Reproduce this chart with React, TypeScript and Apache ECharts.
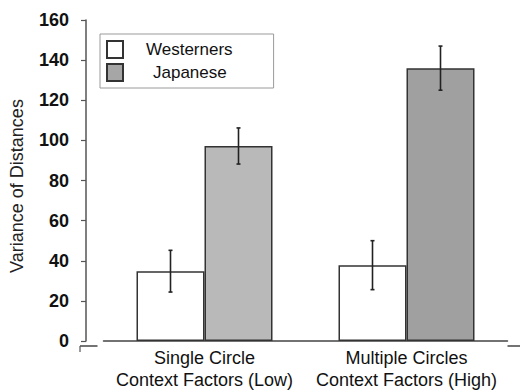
import React, { useEffect, useRef } from "react";
import * as echarts from "echarts";

const categories = ["Single Circle\nContext Factors (Low)", "Multiple Circles\nContext Factors (High)"];
const seriesNames = ["Westerners", "Japanese"];
const westerners = [34.8, 37.8];
const japanese = [97.2, 136.0];
const westernersErr = [10.4, 12.2];
const japaneseErr = [9.0, 11.0];
const yTicks = { min: 0, max: 160, interval: 20 };

const FONT = "Liberation Sans, Arial, sans-serif";

export default function App() {
  const ref = useRef<HTMLDivElement>(null);
  useEffect(() => {
    if (!ref.current) return;
    const chart = echarts.init(ref.current, undefined, { renderer: "svg" });
    const errData = (vals: number[], errs: number[]) =>
      vals.map((v, i) => [i, v - errs[i], v + errs[i]]);
    const errSeries = (name: string, vals: number[], errs: number[], shift: number) => ({
      type: "custom",
      name: name + " err",
      z: 10,
      silent: true,
      data: errData(vals, errs),
      renderItem: (params: any, api: any) => {
        const x = api.value(0);
        const lo = api.coord([x, api.value(1)]);
        const hi = api.coord([x, api.value(2)]);
        const cx = lo[0] + shift;
        const cap = 2;
        const style = { stroke: "#222", lineWidth: 1.6 };
        return {
          type: "group",
          children: [
            { type: "line", shape: { x1: cx, y1: lo[1], x2: cx, y2: hi[1] }, style },
            { type: "line", shape: { x1: cx - cap, y1: lo[1], x2: cx + cap, y2: lo[1] }, style },
            { type: "line", shape: { x1: cx - cap, y1: hi[1], x2: cx + cap, y2: hi[1] }, style },
          ],
        };
      },
    });
    const barW = 68;
    chart.setOption({
      animation: false,
      backgroundColor: "#ffffff",
      textStyle: { fontFamily: FONT },
      grid: { left: 97.5, right: 12.5, top: 20, bottom: 45, containLabel: false },
      legend: {
        data: [
          { name: seriesNames[0], textStyle: { padding: [0, 0, 0, 18] } },
          { name: seriesNames[1], textStyle: { padding: [0, 0, 0, 25] } },
        ],
        orient: "vertical",
        left: 100,
        top: 34,
        itemWidth: 16,
        itemHeight: 17,
        itemGap: 4,
        padding: [6, 41, 6, 6],
        borderColor: "#9a9a9a",
        borderWidth: 1,
        backgroundColor: "#fff",
        textStyle: { fontSize: 17, color: "#111", fontFamily: FONT },
        icon: "rect",
      },
      xAxis: {
        type: "category",
        data: categories,
        axisLine: { lineStyle: { color: "#444", width: 1.5 } },
        axisTick: { show: false },
        axisLabel: { fontSize: 18, color: "#111", lineHeight: 22, margin: 6, fontFamily: FONT, interval: 0 },
      },
      yAxis: {
        type: "value",
        min: yTicks.min,
        max: yTicks.max,
        interval: yTicks.interval,
        offset: 17.5,
        name: "Variance of Distances",
        nameLocation: "middle",
        nameGap: 60,
        nameTextStyle: { fontSize: 18, color: "#222", fontFamily: FONT, padding: [0, 11, 0, 0] },
        splitLine: { show: false },
        axisLine: { show: true, lineStyle: { color: "#555", width: 1.5 } },
        axisTick: { show: true, length: 5, lineStyle: { color: "#555", width: 1.2 } },
        axisLabel: { fontSize: 18, fontWeight: "bold", color: "#111", margin: 17, fontFamily: FONT },
      },
      graphic: [
        { type: "line", shape: { x1: 80, y1: 346, x2: 97.5, y2: 346 }, style: { stroke: "#444", lineWidth: 1.5 } },
        { type: "line", shape: { x1: 507.5, y1: 346, x2: 520, y2: 346 }, style: { stroke: "#444", lineWidth: 1.5 } },
        { type: "line", shape: { x1: 80, y1: 346, x2: 80, y2: 352 }, style: { stroke: "#555", lineWidth: 1.2 } },
      ],
      series: [
        {
          type: "bar",
          name: seriesNames[0],
          data: westerners,
          barWidth: barW,
          barGap: "0%",
          itemStyle: { color: "#ffffff", borderColor: "#333", borderWidth: 1.5 },
        },
        {
          type: "bar",
          name: seriesNames[1],
          data: [
            { value: japanese[0], itemStyle: { color: "#b9b9b9" } },
            { value: japanese[1], itemStyle: { color: "#a0a0a0" } },
          ],
          barWidth: barW,
          barGap: "0%",
          itemStyle: { color: "#a6a6a6", borderColor: "#333", borderWidth: 1.5 },
        },
        errSeries(seriesNames[0], westerners, westernersErr, -barW / 2),
        errSeries(seriesNames[1], japanese, japaneseErr, barW / 2),
      ],
    });
    return () => chart.dispose();
  }, []);
  return <div ref={ref} style={{ width: 520, height: 391, position: "absolute", left: 0, top: 0 }} />;
}
